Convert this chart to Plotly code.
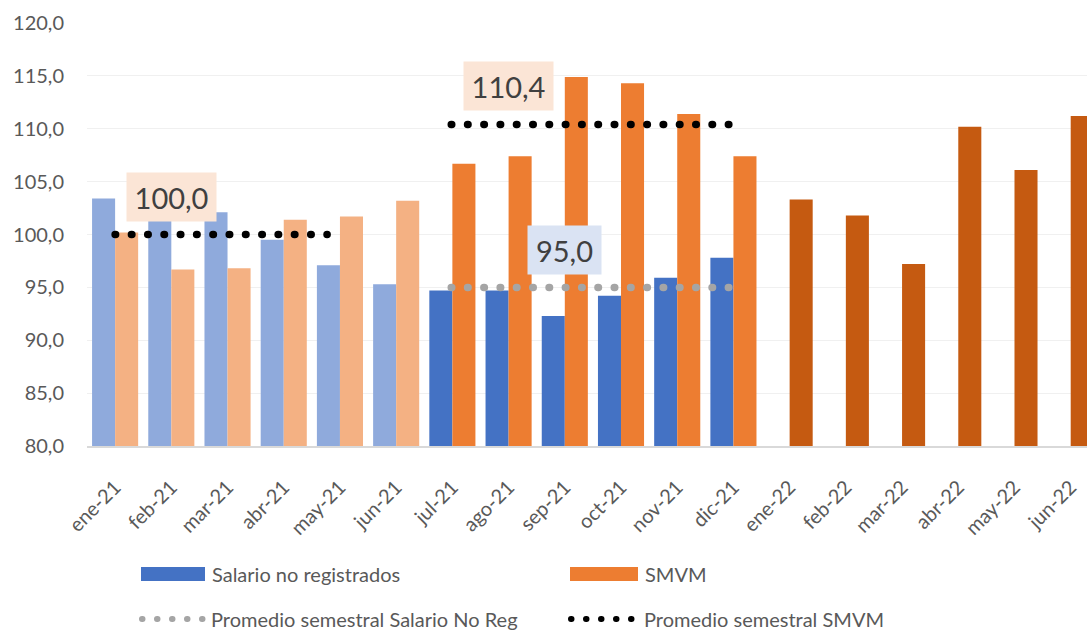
import plotly.graph_objects as go

# ---------------- data ----------------
months = ["ene-21", "feb-21", "mar-21", "abr-21", "may-21", "jun-21",
          "jul-21", "ago-21", "sep-21", "oct-21", "nov-21", "dic-21",
          "ene-22", "feb-22", "mar-22", "abr-22", "may-22", "jun-22"]
salario_no_reg = [103.4, 102.7, 102.1, 99.5, 97.1, 95.3,
                  94.7, 94.7, 92.3, 94.2, 95.9, 97.8,
                  None, None, None, None, None, None]
smvm = [100.2, 96.7, 96.8, 101.4, 101.7, 103.2,
        106.7, 107.4, 114.9, 114.3, 111.4, 107.4,
        103.3, 101.8, 97.2, 110.2, 106.1, 111.2]
prom_smvm = [100.0, 110.4]       # semestre 1 y 2 de 2021
prom_no_reg = [95.0]             # semestre 2 de 2021
y_ticks = [80, 85, 90, 95, 100, 105, 110, 115, 120]

# ---------------- styles ----------------
W, H = 1087, 630
ML, MR, MT, MB = 87, 0, 23, 184
FONT = "Lato"
TXT = "#595959"
col_noreg = ["#8FAADC"] * 6 + ["#4472C4"] * 6 + ["#4472C4"] * 6
col_smvm = ["#F4B183"] * 6 + ["#ED7D31"] * 6 + ["#C55A11"] * 6
x = list(range(len(months)))
x_range = [-0.5, 17.29]
DOT = "0.5px,15.8px"

fig = go.Figure()
fig.add_trace(go.Bar(x=x, y=salario_no_reg, name="Salario no registrados",
                     marker=dict(color=col_noreg, line=dict(width=0))))
fig.add_trace(go.Bar(x=x, y=smvm, name="SMVM",
                     marker=dict(color=col_smvm, line=dict(width=0))))

# semestral averages (segment extents are layout positions)
seg_h1 = [0.0, 3.772]
seg_h2 = [5.98, 10.93]
fig.add_trace(go.Scatter(x=seg_h1, y=[prom_smvm[0]] * 2, mode="lines",
                         line=dict(color="#000000", width=7.5, dash=DOT),
                         name="Promedio semestral SMVM"))
fig.add_trace(go.Scatter(x=seg_h2, y=[prom_no_reg[0]] * 2, mode="lines",
                         line=dict(color="#A5A5A5", width=7.5, dash=DOT),
                         name="Promedio semestral Salario No Reg"))
fig.add_trace(go.Scatter(x=seg_h2, y=[prom_smvm[1]] * 2, mode="lines",
                         line=dict(color="#000000", width=7.5, dash=DOT),
                         name="Promedio semestral SMVM", showlegend=False))

def fmt(v):
    return f"{v:.1f}".replace(".", ",")

# value labels
fig.add_annotation(x=1, y=103.58, text=fmt(prom_smvm[0]), showarrow=False,
                   bgcolor="#FBE5D6", width=85, height=44, borderpad=2,
                   font=dict(family=FONT, size=29, color="#404040"))
fig.add_annotation(x=7, y=114.0, text=fmt(prom_smvm[1]), showarrow=False,
                   bgcolor="#FBE5D6", width=85, height=44, borderpad=2,
                   font=dict(family=FONT, size=29, color="#404040"))
fig.add_annotation(x=8, y=98.56, text=fmt(prom_no_reg[0]), showarrow=False,
                   bgcolor="#DAE3F3", width=69, height=44, borderpad=2,
                   font=dict(family=FONT, size=29, color="#404040"))

# ---------------- manual legend ----------------
PW, PH = W - ML - MR, H - MT - MB
def px(xp):
    return (xp - ML) / PW
def py(yp):
    return (H - MB - yp) / PH

legend_rects = [(141, 205, "#4472C4", "Salario no registrados"),
                (570, 638, "#ED7D31", "SMVM")]
for x0, x1, c, label in legend_rects:
    fig.add_shape(type="rect", xref="paper", yref="paper",
                  x0=px(x0), x1=px(x1), y0=py(581), y1=py(567),
                  fillcolor=c, line=dict(width=0))
    fig.add_annotation(xref="paper", yref="paper", x=px(x1 + 5), y=py(574),
                       xanchor="left", yanchor="middle", showarrow=False,
                       text=label, font=dict(family=FONT, size=20, color=TXT))

legend_dots = [(142, 203, "#A5A5A5", "Promedio semestral Salario No Reg", 209),
               (571, 637, "#000000", "Promedio semestral SMVM", 642)]
for x0, x1, c, label, tx in legend_dots:
    fig.add_shape(type="line", xref="paper", yref="paper",
                  x0=px(x0), x1=px(x1), y0=py(619), y1=py(619),
                  line=dict(color=c, width=6, dash="0.5px,14.5px"))
    fig.add_annotation(xref="paper", yref="paper", x=px(tx), y=py(619),
                       xanchor="left", yanchor="middle", showarrow=False,
                       text=label, font=dict(family=FONT, size=20, color=TXT))

fig.update_layout(
    width=W, height=H,
    margin=dict(l=ML, r=MR, t=MT, b=MB, autoexpand=False),
    barmode="group", bargap=0.18, bargroupgap=0,
    plot_bgcolor="white", paper_bgcolor="white",
    showlegend=False,
    separators=",.",
    font=dict(family=FONT, color=TXT),
)
fig.update_xaxes(range=x_range, tickmode="array", tickvals=x, ticktext=months,
                 tickangle=-45, tickfont=dict(family=FONT, size=20, color=TXT),
                 showgrid=False, showline=True, linecolor="#D9D9D9", linewidth=1.5,
                 ticks="outside", ticklen=20, tickcolor="rgba(0,0,0,0)",
                 zeroline=False, automargin=False)
fig.update_yaxes(range=[80, 120], tickmode="array", tickvals=y_ticks,
                 tickformat=".1f", tickfont=dict(family=FONT, size=20, color=TXT),
                 showgrid=True, gridcolor="#F0F0F0", gridwidth=1,
                 zeroline=False, showline=False, ticks="", ticklabelstandoff=22,
                 automargin=False)

post = """
document.body.style.margin = '0';
document.body.style.padding = '0';
document.body.style.overflow = 'hidden';
var gd = document.getElementById('{plot_id}');
function roundDots(){
  document.querySelectorAll('path').forEach(function(p){
    var d = p.style.strokeDasharray || p.getAttribute('stroke-dasharray');
    if (d && d !== 'none') { p.style.strokeLinecap = 'round'; }
  });
}
roundDots();
if (gd && gd.on) { gd.on('plotly_afterplot', roundDots); }
"""
fig.write_html("out.html", post_script=post, config={"displayModeBar": False})
